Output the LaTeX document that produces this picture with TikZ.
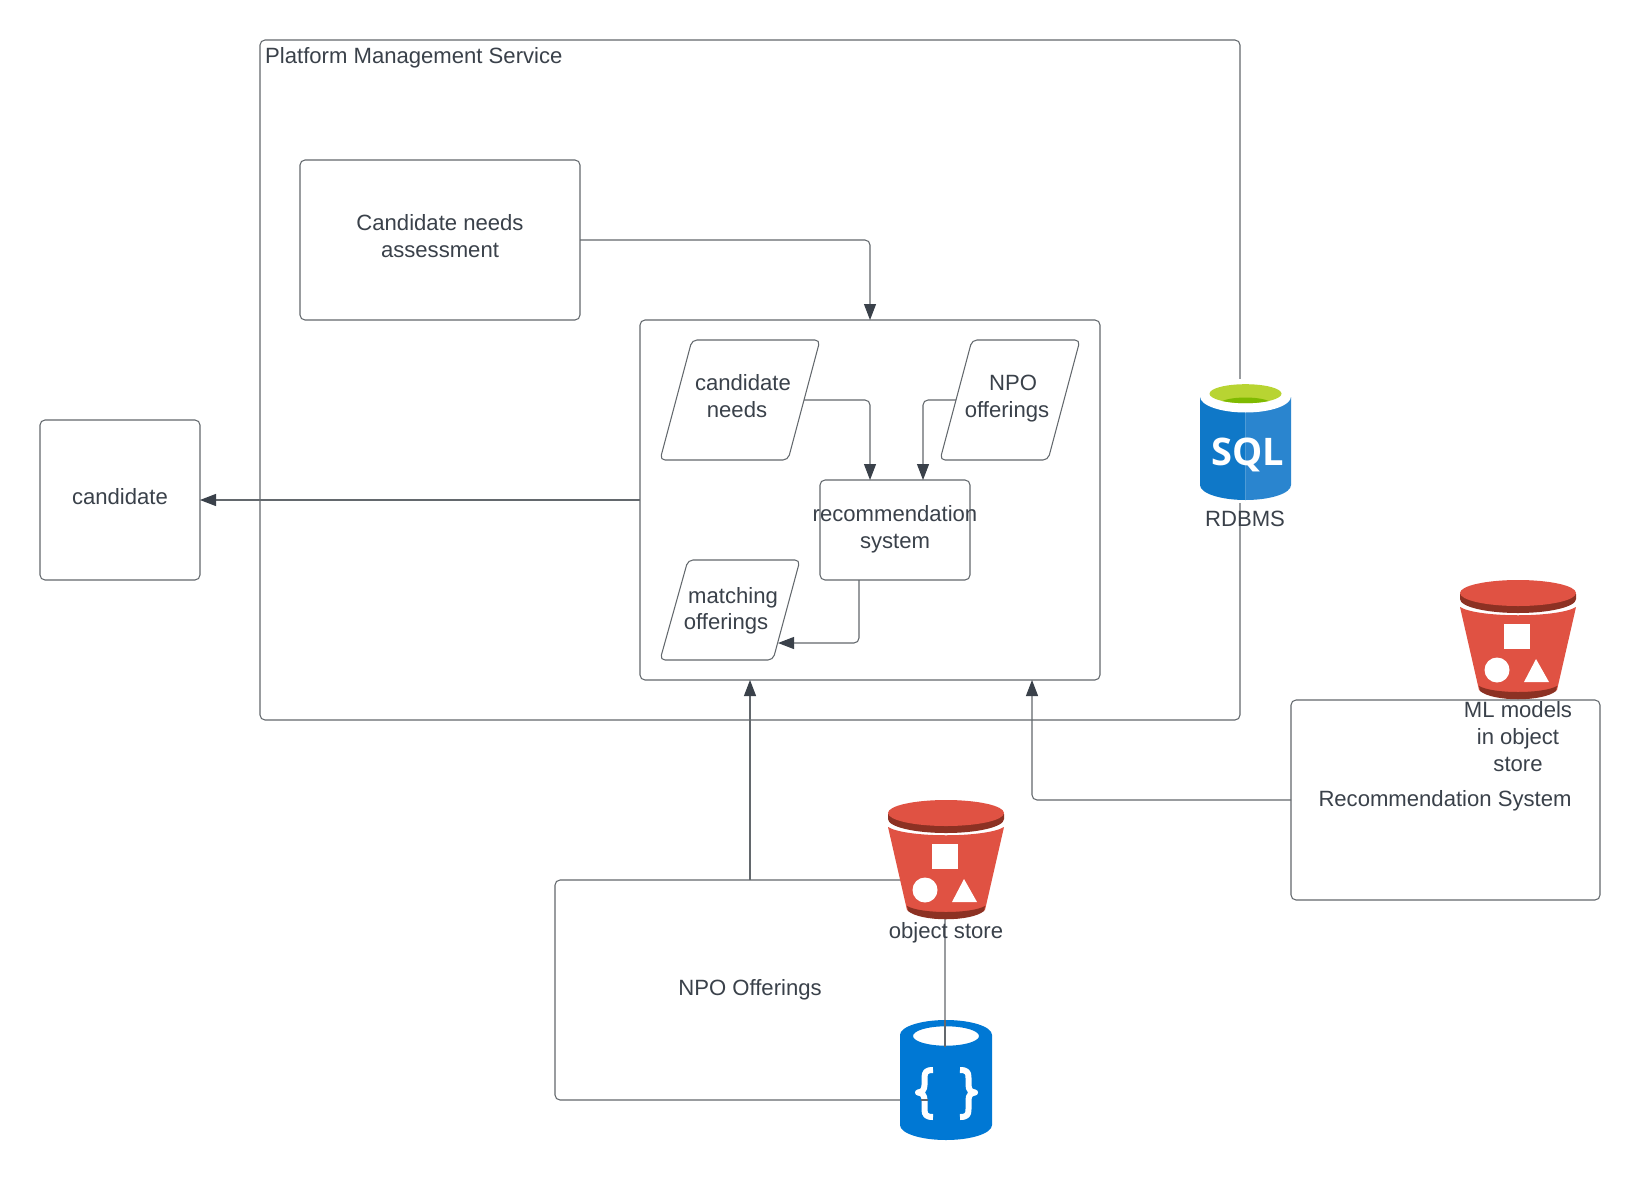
\documentclass[tikz,border=0pt]{standalone}
\usepackage{fontspec}
\setmainfont{Liberation Sans}
\newfontfamily\sqlfont{Open Sans}
\usetikzlibrary{arrows.meta}
\definecolor{ink}{HTML}{3A414A}
\definecolor{edge}{HTML}{63686D}
\definecolor{bucketred}{HTML}{E05243}
\definecolor{bucketdark}{HTML}{8C3123}
\definecolor{canblue}{HTML}{0078D4}
\definecolor{sqlleft}{HTML}{0F78C8}
\definecolor{sqlright}{HTML}{2A85CF}
\definecolor{greenlight}{HTML}{B8D432}
\definecolor{greendark}{HTML}{7FBA00}
\tikzset{
  boxnode/.style={draw=edge,line width=1.05pt,rounded corners=5pt,inner sep=0pt,outer sep=0pt,fill=none},
  para/.style={draw=edge,line width=1.05pt,rounded corners=5pt},
  conn/.style={draw=edge,line width=1.05pt,rounded corners=5pt},
  flow/.style={conn,-{Triangle[length=16pt,width=12pt,color=ink]}},
  lab/.style={text=ink,inner sep=0pt,anchor=base,font=\fontsize{22.1}{26}\selectfont},
  bucket/.pic={
    \fill[bucketred] (-58,27) -- (-39,110) .. controls (-30,118) and (30,118) .. (39,110) -- (58,27) .. controls (40,38) and (-40,38) .. (-58,27) -- cycle;
    \fill[bucketdark] (-39,106) .. controls (-25,114) and (25,114) .. (39,106) -- (38,111) .. controls (25,122) and (-25,122) .. (-38,111) -- cycle;
    \fill[bucketdark] (-58,14) -- (-58,19) arc[x radius=58,y radius=14,start angle=180,end angle=0] -- (58,14) -- cycle;
    \fill[bucketred] (0,13) ellipse[x radius=58,y radius=13];
    \fill[white] (-14,44) rectangle (12,69);
    \fill[white] (-21,90) circle[radius=12.5];
    \fill[white] (18,79) -- (31,102) -- (6,102) -- cycle;
  },
}
\begin{document}
\begin{tikzpicture}[x=1pt,y=-1pt]
\useasboundingbox (0,0) rectangle (1640,1180);
\fill[white] (0,0) rectangle (1640,1180);

% containers
\node[boxnode,minimum width=980pt,minimum height=680pt] (pms) at (750,380) {};
\node[lab,anchor=base west] (pmslabel) at (265,64) {Platform Management Service};
\node[boxnode,minimum width=280pt,minimum height=160pt] (assess) at (440,240) {};
\node[lab] (assess1) at (440,230) {Candidate needs};
\node[lab] (assess2) at (440,257) {assessment};
\node[boxnode,minimum width=460pt,minimum height=360pt] (inner) at (870,500) {};
\node[boxnode,minimum width=160pt,minimum height=160pt] (candidate) at (120,500) {};
\node[lab] (candidatelabel) at (120,504) {candidate};

% parallelograms
\draw[para] (692,340) -- (820,340) -- (788,460) -- (660,460) -- cycle;
\node[lab] (cn1) at (743,390) {candidate};
\node[lab] (cn2) at (737,417) {needs};
\draw[para] (972,340) -- (1080,340) -- (1048,460) -- (940,460) -- cycle;
\node[lab] (no1) at (1013,390) {NPO};
\node[lab] (no2) at (1007,417) {offerings};
\draw[para] (688,560) -- (800,560) -- (773,660) -- (660,660) -- cycle;
\node[lab] (mo1) at (733,603) {matching};
\node[lab] (mo2) at (726,629) {offerings};

% recommendation box
\node[boxnode,minimum width=150pt,minimum height=100pt] (rec) at (895,530) {};
\node[lab] (rec1) at (895,521) {recommendation};
\node[lab] (rec2) at (895,548) {system};

% anchor points of the connectors
\coordinate (cnout) at (804,400);
\coordinate (noout) at (956,400);
\coordinate (recinA) at (870,480);
\coordinate (recinB) at (923,480);
\coordinate (recout) at (859,580);
\coordinate (moin) at (778,643);
\coordinate (innerA) at (750,680);
\coordinate (innerB) at (1032,680);
\coordinate (npotop) at (750,880);

% recommendation system + NPO offerings boxes
\node[boxnode,minimum width=309pt,minimum height=200pt] (recsys) at (1445.5,800) {};
\node[lab] (recsyslabel) at (1445,806) {Recommendation System};
\node[boxnode,minimum width=390pt,minimum height=220pt] (npo) at (750,990) {};
\node[lab] (npolabel) at (750,995) {NPO Offerings};

% connectors
\draw[flow] (assess.east) -| (inner.north);
\draw[flow] (cnout) -| (recinA);
\draw[flow] (noout) -| (recinB);
\draw[flow] (recout) |- (moin);
\draw[flow] (inner.west) -- (candidate.east);
\draw[flow] (npotop) -- (innerA);
\draw[flow] (recsys.west) -| (innerB);

% SQL database icon
\fill[white] (1197,379) rectangle (1295,503);
\begin{scope}
  \clip (1200,390) rectangle (1245.5,505);
  \fill[sqlleft] (1200,397) -- (1200,485) arc[x radius=45.5,y radius=15,start angle=180,end angle=0] -- (1291,397) -- cycle;
\end{scope}
\begin{scope}
  \clip (1245.5,390) rectangle (1295,505);
  \fill[sqlright] (1200,397) -- (1200,485) arc[x radius=45.5,y radius=15,start angle=180,end angle=0] -- (1291,397) -- cycle;
\end{scope}
\fill[white] (1245.5,396.5) ellipse[x radius=45.5,y radius=16];
\fill[greenlight] (1245.5,393.7) ellipse[x radius=36,y radius=9.5];
\begin{scope}
  \clip (1245.5,393.7) ellipse[x radius=36,y radius=9.5];
  \fill[greendark] (1245.5,404) ellipse[x radius=26,y radius=6.5];
\end{scope}
\node[inner sep=0pt,anchor=base,text=white] (sqltext) at (1248,465) {\sqlfont\bfseries\fontsize{38}{38}\selectfont SQL};
\node[lab] (rdbms) at (1245,526.5) {RDBMS};

% buckets
\pic at (1518,580) {bucket};
\node[lab] (ml1) at (1518,717) {ML models};
\node[lab] (ml2) at (1518,744) {in object};
\node[lab] (ml3) at (1518,771) {store};
\pic at (946,800) {bucket};
\node[lab] (objstore) at (946,938) {object store};

% JSON store icon
\fill[canblue,even odd rule] (900,1035) arc[x radius=46,y radius=15,start angle=180,end angle=360] -- (992,1125) arc[x radius=46,y radius=15,start angle=0,end angle=180] -- cycle
  (946,1036) ellipse[x radius=33,y radius=9.7];
\draw[white,line width=6pt,line cap=butt,line join=round] (933,1070) .. controls (926,1070) and (924.5,1072) .. (924.5,1078) -- (924.5,1085) .. controls (924.5,1090) and (922,1092) .. (918,1092.5) .. controls (922,1093) and (924.5,1095) .. (924.5,1100) -- (924.5,1109) .. controls (924.5,1115) and (926,1117) .. (933,1117);
\draw[white,line width=6pt,line cap=butt,line join=round] (960,1070) .. controls (967,1070) and (968.5,1072) .. (968.5,1078) -- (968.5,1085) .. controls (968.5,1090) and (971,1092) .. (975,1092.5) .. controls (971,1093) and (968.5,1095) .. (968.5,1100) -- (968.5,1109) .. controls (968.5,1115) and (967,1117) .. (960,1117);
\draw[edge,line width=1.05pt] (945,1020) -- (945,1047);
\draw[edge,line width=1.05pt] (921,1100) -- (928,1100);
\end{tikzpicture}
\end{document}
